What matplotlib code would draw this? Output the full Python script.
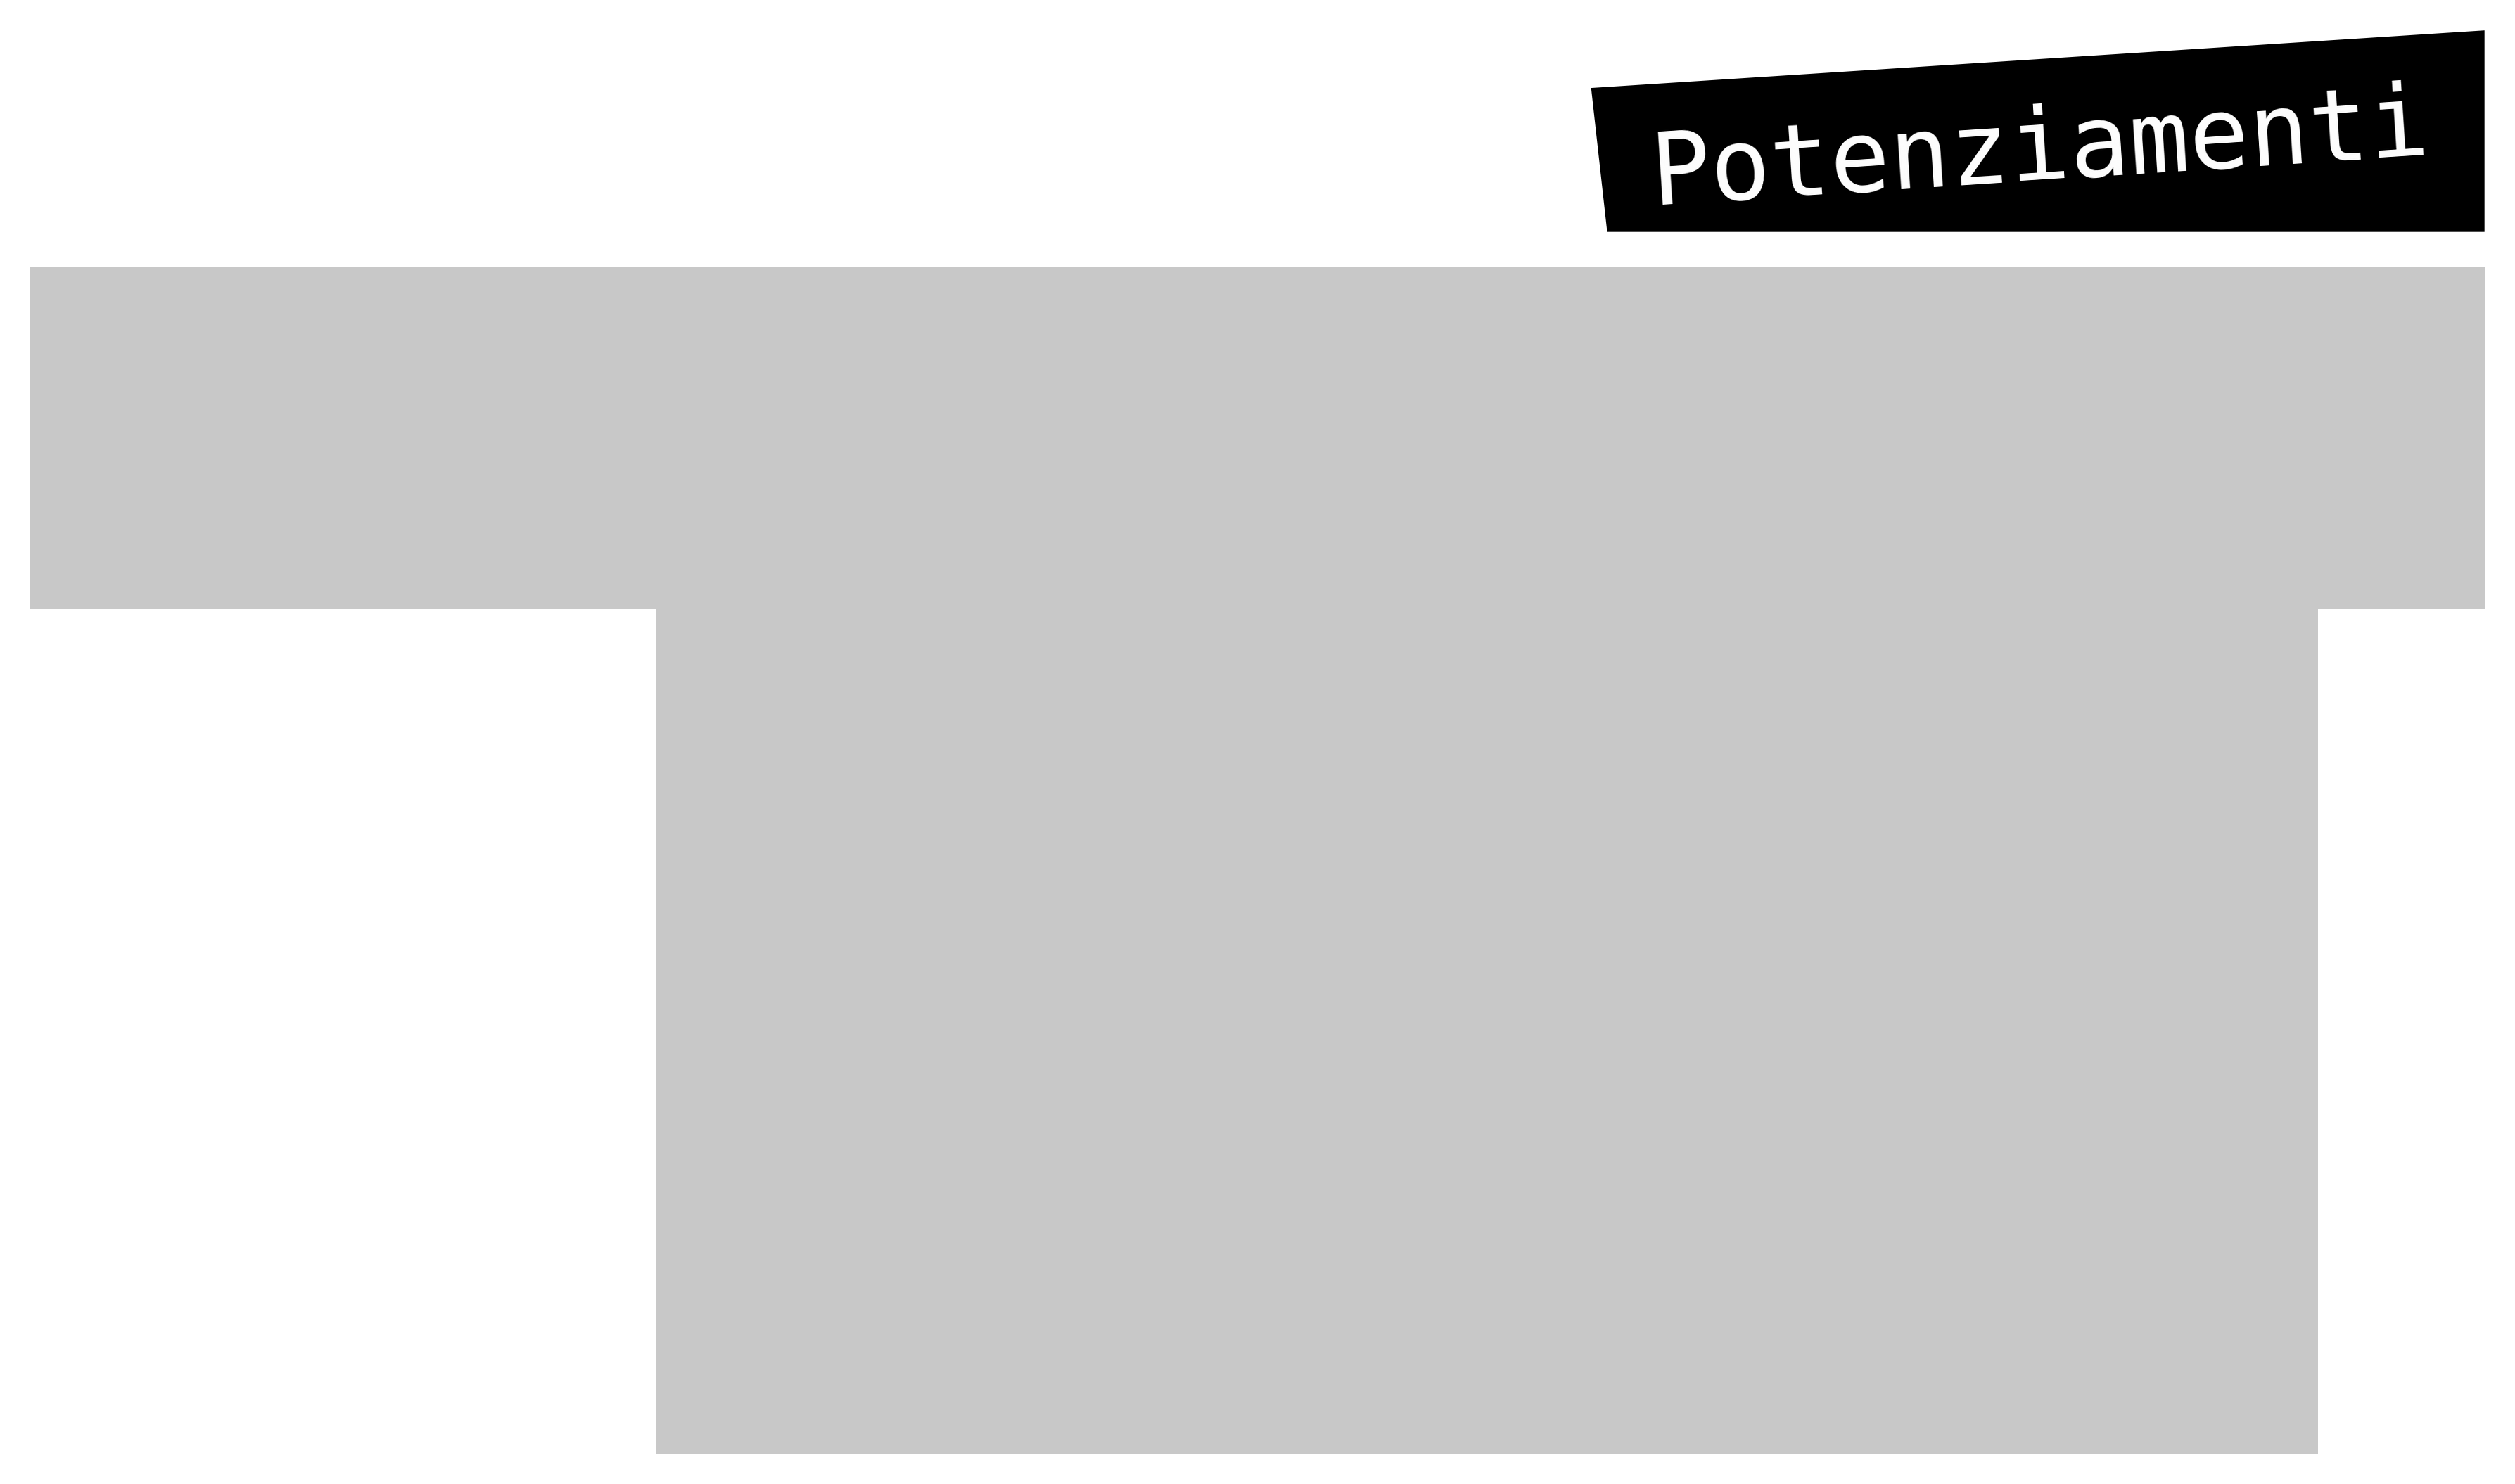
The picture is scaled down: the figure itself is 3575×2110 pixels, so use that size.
import matplotlib
matplotlib.use("Agg")
import matplotlib.pyplot as plt
from matplotlib.patches import Polygon

# reference drawn on a 1568 x 928 grid
W, H = 1568, 928
GREY = "#c8c8c8"

top_bar_x = [19, 1549]
top_bar_y = [167, 381]
stem_x = [409, 1445]
stem_y = [381, 909]

label_box_x = [992, 1549, 1549, 1002]
label_box_y = [55, 19, 145, 145]
label_text = "Potenziamenti"
label_angle = 3.7

fig = plt.figure(figsize=(35.75, 21.1), dpi=100)
ax = fig.add_axes([0, 0, 1, 1])
ax.set_xlim(0, W)
ax.set_ylim(H, 0)
ax.axis("off")

ax.fill_between(top_bar_x, top_bar_y[0], top_bar_y[1], color=GREY, lw=0)
ax.fill_between(stem_x, stem_y[0], stem_y[1], color=GREY, lw=0)

ax.add_patch(Polygon(list(zip(label_box_x, label_box_y)), closed=True, color="black", lw=0))
ax.text(1272, 95, label_text, color="white", fontsize=102, family="DejaVu Sans Mono",
        ha="center", va="center", rotation=label_angle, rotation_mode="anchor")

fig.savefig("out.png", dpi=100, facecolor="white")
